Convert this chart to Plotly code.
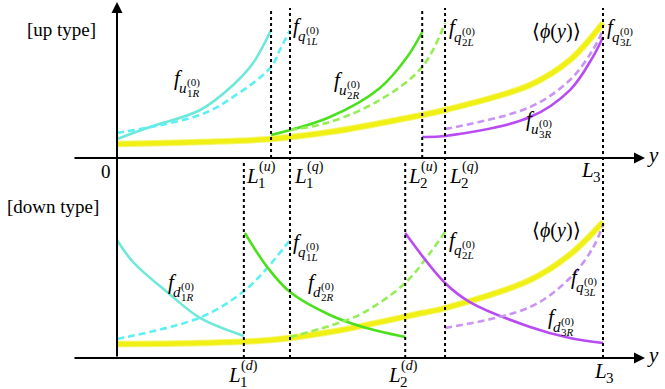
import plotly.graph_objects as go

# ---------------- data (horizontal coordinate y in units of L3, profiles in arbitrary units) ----
L1u, L1q, L2u, L2q, L3 = 0.317, 0.356, 0.628, 0.675, 1.0
L1d, L2d = 0.261, 0.593

# up-type panel
u1R_y = [0.0, 0.068, 0.171, 0.239, 0.280, 0.317]
u1R_f = [0.127, 0.207, 0.32, 0.487, 0.633, 0.853]
q1L_up_y = [0.0, 0.171, 0.239, 0.317, 0.335, 0.356]
q1L_up_f = [0.167, 0.287, 0.407, 0.607, 0.72, 0.853]
phi_y = [0.0, 0.171, 0.317, 0.438, 0.628, 0.675, 0.850, 0.932, 1.0]
phi_up = [0.093, 0.107, 0.127, 0.173, 0.287, 0.32, 0.487, 0.653, 0.90]
u2R_y = [0.317, 0.438, 0.541, 0.597, 0.628]
u2R_f = [0.153, 0.273, 0.467, 0.673, 0.84]
q2L_up_y = [0.356, 0.438, 0.541, 0.628, 0.675]
q2L_up_f = [0.187, 0.24, 0.387, 0.607, 0.9]
u3R_y = [0.628, 0.675, 0.850, 0.932, 0.979, 1.0]
u3R_f = [0.14, 0.147, 0.273, 0.453, 0.673, 0.807]
q3L_up_y = [0.675, 0.85, 0.932, 0.979, 1.0]
q3L_up_f = [0.193, 0.34, 0.52, 0.72, 0.853]

# down-type panel
d1R_y = [0.0, 0.033, 0.103, 0.171, 0.261]
d1R_f = [0.787, 0.64, 0.44, 0.267, 0.147]
q1L_dn_y = [0.0, 0.171, 0.259, 0.309, 0.356]
q1L_dn_f = [0.127, 0.27, 0.44, 0.6, 0.787]
phi_dn = [0.093, 0.1, 0.12, 0.173, 0.3, 0.333, 0.52, 0.69, 0.907]
d2R_y = [0.263, 0.309, 0.356, 0.438, 0.506, 0.593]
d2R_f = [0.833, 0.607, 0.44, 0.287, 0.207, 0.14]
q2L_dn_y = [0.356, 0.438, 0.506, 0.593, 0.644, 0.675]
q2L_dn_f = [0.14, 0.215, 0.30, 0.50, 0.70, 0.84]
d3R_y = [0.593, 0.675, 0.726, 0.850, 0.932, 1.0]
d3R_f = [0.833, 0.5, 0.373, 0.207, 0.133, 0.1]
q3L_dn_y = [0.675, 0.85, 0.932, 0.979, 1.0]
q3L_dn_f = [0.2, 0.34, 0.533, 0.733, 0.887]

# ---------------- styles ----------------
W, H = 665, 389
CYAN_S, CYAN_D = '#6ee8d8', '#5cf0f5'
GREEN_S, GREEN_D = '#4ae01c', '#94ee55'
PURP_S, PURP_D = '#b84cf2', '#c994f5'
YELLOW = '#f0f014'
SERIF = 'Liberation Serif'
DASH = '7px,4px'

fig = go.Figure()


def curve(x, y, color, dashed, panel):
    fig.add_trace(go.Scatter(
        x=x, y=y, mode='lines', line_shape='spline',
        line=dict(color=color, width=2.6, dash=DASH if dashed else 'solid'),
        xaxis='x' if panel == 1 else 'x2', yaxis='y' if panel == 1 else 'y2',
        hoverinfo='skip', showlegend=False))


def phi(x, y, panel):
    ax = 'x' if panel == 1 else 'x2'
    ay = 'y' if panel == 1 else 'y2'
    fig.add_trace(go.Scatter(x=x, y=y, mode='lines', line_shape='spline',
                             line=dict(color=YELLOW, width=6.5), opacity=0.6,
                             xaxis=ax, yaxis=ay, hoverinfo='skip', showlegend=False))
    fig.add_trace(go.Scatter(x=x, y=y, mode='lines', line_shape='spline',
                             line=dict(color=YELLOW, width=4.5),
                             xaxis=ax, yaxis=ay, hoverinfo='skip', showlegend=False))


# up panel
phi(phi_y, phi_up, 1)
curve(u1R_y, u1R_f, CYAN_S, False, 1)
curve(q1L_up_y, q1L_up_f, CYAN_D, True, 1)
curve(u2R_y, u2R_f, GREEN_S, False, 1)
curve(q2L_up_y, q2L_up_f, GREEN_D, True, 1)
curve(u3R_y, u3R_f, PURP_S, False, 1)
curve(q3L_up_y, q3L_up_f, PURP_D, True, 1)
# down panel
phi(phi_y, phi_dn, 2)
curve(d1R_y, d1R_f, CYAN_S, False, 2)
curve(q1L_dn_y, q1L_dn_f, CYAN_D, True, 2)
curve(d2R_y, d2R_f, GREEN_S, False, 2)
curve(q2L_dn_y, q2L_dn_f, GREEN_D, True, 2)
curve(d3R_y, d3R_f, PURP_S, False, 2)
curve(q3L_dn_y, q3L_dn_f, PURP_D, True, 2)

# ---------------- axes geometry ----------------
X0, SX = 117, 486.0          # pixel of y=0, pixels per unit
split = 195                  # pixel row separating the two panels
xr = [-X0 / SX, (W - X0) / SX]
SV = 150.0
y1r = [(158 - split) / SV, 158 / SV]
y2r = [(358 - H) / SV, (358 - split) / SV]
dom = 1 - split / H
hid = dict(visible=False, showgrid=False, zeroline=False, fixedrange=True)
fig.update_layout(
    width=W, height=H, margin=dict(l=0, r=0, t=0, b=0),
    paper_bgcolor='white', plot_bgcolor='rgba(0,0,0,0)',
    xaxis=dict(domain=[0, 1], range=xr, anchor='y', **hid),
    yaxis=dict(domain=[dom, 1], range=y1r, anchor='x', **hid),
    xaxis2=dict(domain=[0, 1], range=xr, anchor='y2', **hid),
    yaxis2=dict(domain=[0, dom], range=y2r, anchor='x2', **hid),
)


def py2paper(p):
    return 1 - p / H


# dotted boundary lines
dot = dict(color='black', width=2, dash='3px,3px')
shapes = []
for xv in (L1q, L2q, L3):
    shapes.append(dict(type='line', xref='x', yref='paper', x0=xv, x1=xv,
                       y0=py2paper(358), y1=py2paper(8), line=dot))
for xv in (L1u, L2u):
    shapes.append(dict(type='line', xref='x', yref='y', x0=xv, x1=xv,
                       y0=0, y1=1.0, line=dot))
for xv in (L1d, L2d):
    shapes.append(dict(type='line', xref='x2', yref='paper', x0=xv, x1=xv,
                       y0=py2paper(358), y1=py2paper(162), line=dot))
fig.update_layout(shapes=shapes)

ann = []
# axes with arrows
xstart, xend = (73 - X0) / SX, (645 - X0) / SX
for xa, ya in (('x', 'y'), ('x2', 'y2')):
    ann.append(dict(xref=xa, yref=ya, axref=xa, ayref=ya, x=xend, y=0, ax=xstart, ay=0,
                    text='', showarrow=True, arrowhead=2, arrowsize=1.1, arrowwidth=2,
                    arrowcolor='black'))
ann.append(dict(xref='x', yref='paper', x=0, y=py2paper(2), ax=0, ay=356,
                text='', showarrow=True, arrowhead=2, arrowsize=1.1, arrowwidth=2,
                arrowcolor='black'))


def txt(s, x, base, size, anchor='left'):
    ann.append(dict(xref='paper', yref='paper', x=x / W, y=py2paper(base - 0.32 * size),
                    xanchor=anchor, yanchor='middle', text=s, showarrow=False,
                    font=dict(family=SERIF, size=size, color='black'), borderpad=0))


def flabel(fx, fb, letter, sub):
    txt('<i>f</i>', fx, fb, 21)
    txt('<i>%s</i>' % letter, fx + 5, fb + 8, 15)
    txt('(0)', fx + 13, fb + 1, 11)
    txt(sub, fx + 13, fb + 12, 11)


def Llabel(lx, lb, sub, sup=None):
    txt('<i>L</i>', lx, lb, 21)
    txt(sub, lx + 12, lb + 5, 15)
    if sup:
        txt(sup, lx + 13, lb - 12, 14)


# panel titles and axis labels
txt('[up type]', 61, 36, 19, 'center')
txt('[down type]', 53, 213, 19, 'center')
txt('0', 106, 178, 19, 'center')
txt('<i>y</i>', 653, 162, 21, 'center')
txt('<i>y</i>', 653, 362, 21, 'center')
txt('⟨<i>ϕ</i>(<i>y</i>)⟩', 556, 38, 20, 'center')
txt('⟨<i>ϕ</i>(<i>y</i>)⟩', 556, 237, 20, 'center')

# profile labels (up)
flabel(292, 33, 'q', '1<i>L</i>')
flabel(173, 85, 'u', '1<i>R</i>')
flabel(333, 87, 'u', '2<i>R</i>')
flabel(448, 34, 'q', '2<i>L</i>')
flabel(606, 34, 'q', '3<i>L</i>')
flabel(525, 126, 'u', '3<i>R</i>')
# profile labels (down)
flabel(292, 249, 'q', '1<i>L</i>')
flabel(167, 289, 'd', '1<i>R</i>')
flabel(307, 289, 'd', '2<i>R</i>')
flabel(448, 247, 'q', '2<i>L</i>')
flabel(570, 284, 'q', '3<i>L</i>')
flabel(547, 324, 'd', '3<i>R</i>')

# boundary labels
Llabel(245, 183, '1', '(<i>u</i>)')
Llabel(293, 183, '1', '(<i>q</i>)')
Llabel(407, 183, '2', '(<i>u</i>)')
Llabel(448, 183, '2', '(<i>q</i>)')
Llabel(580, 177, '3')
Llabel(227, 382, '1', '(<i>d</i>)')
Llabel(387, 382, '2', '(<i>d</i>)')
Llabel(593, 378, '3')

fig.update_layout(annotations=ann)
fig.write_html('out.html', config={'displayModeBar': False},
               post_script="document.body.style.margin='0';document.body.style.overflow='hidden';")
